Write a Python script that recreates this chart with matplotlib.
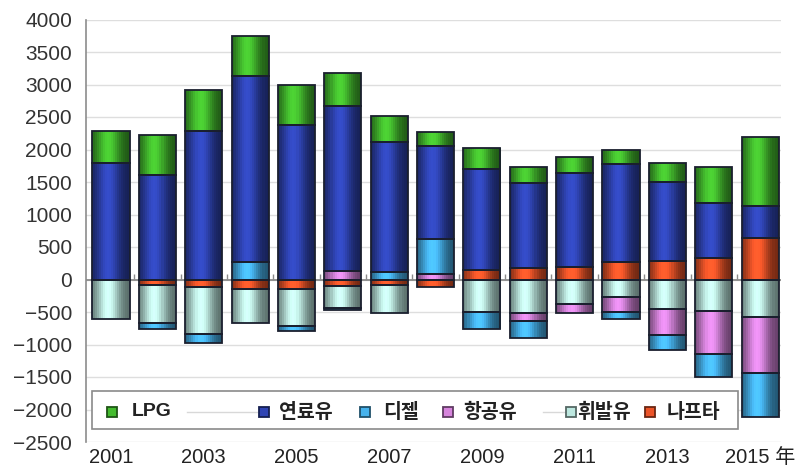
import numpy as np
import matplotlib.pyplot as plt
from matplotlib.colors import to_rgb
from matplotlib.patches import Rectangle
from matplotlib.lines import Line2D

# --- data (stacking order: bottom of the stack first) ---
years = np.arange(2001, 2016)
naphtha = [0, -85, -120, -140, -140, -105, -80, -110, 150, 180, 200, 275, 290, 330, 645]
gasoline = [-610, -590, -720, -530, -570, -340, -440, 0, -500, -520, -380, -272, -451, -492, -584]
jet_fuel = [0, 0, 0, 0, 0, 135, 0, 90, 0, -120, -140, -235, -400, -655, -855]
diesel = [0, -90, -135, 270, -80, -20, 110, 530, -260, -265, 0, -95, -230, -355, -680]
fuel_oil = [1790, 1610, 2290, 2855, 2380, 2540, 2010, 1440, 1545, 1300, 1435, 1505, 1215, 840, 480]
lpg = [500, 615, 620, 620, 615, 500, 395, 210, 335, 245, 245, 215, 280, 565, 1070]

tick_years = years[::2]
tick_labels = [str(y) for y in tick_years[:-1]] + ['2015 年']

series = [
    ('나프타', naphtha, '#ec5428'),
    ('휘발유', gasoline, '#bde8e0'),
    ('항공유', jet_fuel, '#d684dc'),
    ('디젤', diesel, '#46b2ec'),
    ('연료유', fuel_oil, '#2f44b4'),
    ('LPG', lpg, '#44bc2e'),
]
legend_order = ['LPG', '연료유', '디젤', '항공유', '휘발유', '나프타']

EDGE = '#1a1f2e'
BAR_W = 0.8
N_STRIPS = 18

# brightness profile across a bar: dark rims, light band left of centre
_t = (np.arange(N_STRIPS) + 0.5) / N_STRIPS
PROFILE = 0.45 + 0.68 * np.exp(-((_t - 0.42) / 0.32) ** 2)
strip_w = BAR_W / N_STRIPS
strip_off = -BAR_W / 2 + (np.arange(N_STRIPS) + 0.5) * strip_w

fig = plt.figure(figsize=(7.99, 4.70), dpi=100)
ax = fig.add_axes([86 / 799, 1 - 442 / 470, 695 / 799, 422.5 / 470])

pos_base = np.zeros(len(years))
neg_base = np.zeros(len(years))
for name, vals, col in series:
    vals = np.asarray(vals, float)
    bottom = np.where(vals >= 0, pos_base, neg_base)
    keep = vals != 0
    base_rgb = np.array(to_rgb(col))
    # shaded fill built from narrow vertical strips
    for off, m in zip(strip_off, PROFILE):
        ax.bar(years[keep] + off, vals[keep], width=strip_w * 1.05, bottom=bottom[keep],
               color=np.clip(base_rgb * m, 0, 1), linewidth=0, zorder=3)
    ax.bar(years[keep], vals[keep], width=BAR_W, bottom=bottom[keep],
           facecolor='none', edgecolor=EDGE, linewidth=1.3, zorder=4)
    pos_base += np.clip(vals, 0, None)
    neg_base += np.clip(vals, None, 0)

ax.set_xlim(2000.46, 2015.45)
ax.set_ylim(-2500, 4000)
ax.set_yticks(np.arange(-2500, 4001, 500))
ax.yaxis.grid(True, color='#dedede', linewidth=1.0, zorder=0)
ax.set_axisbelow(True)

# zero line with small category ticks between the bars
ax.axhline(0, color='#8c8c8c', linewidth=1.3, zorder=2)
ax.vlines(years + 0.5, 0, 90, color='#8c8c8c', linewidth=1.0, zorder=2)

ax.set_xticks(tick_years)
ax.set_xticklabels(tick_labels)
for lab in ax.get_xticklabels():
    lab.set_family(['Liberation Sans', 'Noto Sans CJK JP'])
ax.tick_params(axis='x', length=0, pad=4, labelsize=14.5, labelcolor='#222222')
ax.tick_params(axis='y', length=0, pad=10, labelsize=15, labelcolor='#333333')
for lab in ax.get_yticklabels():
    lab.set_family('Liberation Sans')

for side in ['top', 'right', 'bottom']:
    ax.spines[side].set_visible(False)
ax.spines['left'].set_color('#8c8c8c')
ax.spines['left'].set_linewidth(1.2)


# --- legend box drawn in figure pixels ---
def fx(x):
    return x / 799


def fy(y):
    return 1 - y / 470


fig.patches.append(Rectangle((fx(92), fy(429)), fx(738) - fx(92), fy(391) - fy(429),
                             transform=fig.transFigure, facecolor='white',
                             edgecolor='#8a8a8a', linewidth=1.2, zorder=5))
for x0, x1 in [(187, 257), (543, 566)]:
    fig.lines.append(Line2D([fx(x0), fx(x1)], [fy(412), fy(412)], transform=fig.transFigure,
                            color='#d8d8d8', linewidth=1.0, zorder=6))

colors = {name: col for name, _, col in series}
legend_pos = {'LPG': (112, 132), '연료유': (264, 279), '디젤': (365, 383),
              '항공유': (448, 463), '휘발유': (571, 577), '나프타': (650, 667)}
for name in legend_order:
    mx, tx = legend_pos[name]
    col = colors[name]
    fig.patches.append(Rectangle((fx(mx - 5), fy(417)), fx(10), fy(407) - fy(417),
                                 transform=fig.transFigure, facecolor=col,
                                 edgecolor=np.array(to_rgb(col)) * 0.45,
                                 linewidth=1.3, zorder=7))
    fig.text(fx(tx), fy(412), name, ha='left', va='center', fontsize=14,
             fontweight='bold', color='#222222', zorder=7,
             family=['Liberation Sans', 'Noto Sans CJK KR'])

fig.savefig('out.png', dpi=100)
